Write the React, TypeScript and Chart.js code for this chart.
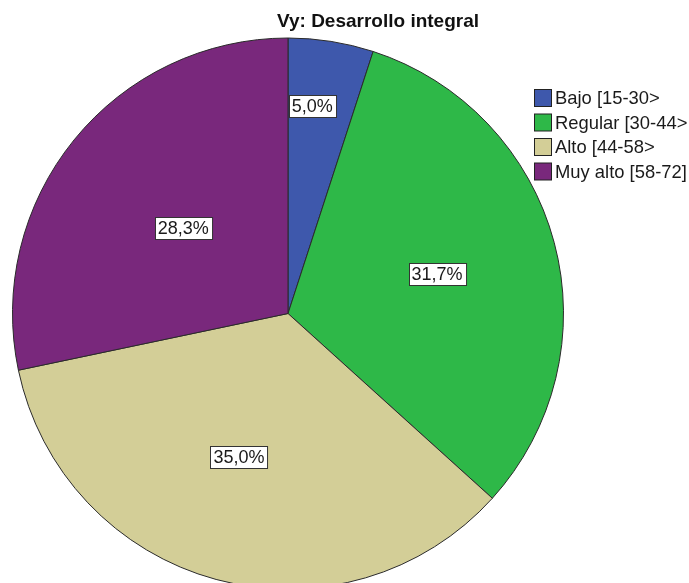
import React, { useEffect, useRef } from "react";
import { Chart, registerables } from "chart.js";

Chart.register(...registerables);

const TITLE = "Vy: Desarrollo integral";
const CATEGORIES = ["Bajo [15-30>", "Regular [30-44>", "Alto [44-58>", "Muy alto [58-72]"];
const PERCENTS = [5.0, 31.7, 35.0, 28.3];
const COLORS = ["#3E58AC", "#2EB848", "#D3CE97", "#79287C"];
// label placement within each slice: fraction of radius, fraction of the slice's angle
const LABEL_RADIUS = [0.76, 0.56, 0.55, 0.49];
const LABEL_ANGLE = [0.37, 0.5, 0.53, 0.5];

const FONT = "'Liberation Sans', Arial, sans-serif";

const overlayPlugin = {
  id: "spssOverlay",
  afterDatasetsDraw(chart: any) {
    const ctx = chart.ctx as CanvasRenderingContext2D;
    const meta = chart.getDatasetMeta(0);
    ctx.save();
    ctx.font = `18px ${FONT}`;
    ctx.textAlign = "center";
    ctx.textBaseline = "middle";
    meta.data.forEach((arc: any, i: number) => {
      const p = arc.getProps(["x", "y", "startAngle", "endAngle", "outerRadius"], true);
      const mid = p.startAngle + (p.endAngle - p.startAngle) * LABEL_ANGLE[i];
      const r = p.outerRadius * LABEL_RADIUS[i];
      const cx = p.x + Math.cos(mid) * r;
      const cy = p.y + Math.sin(mid) * r;
      const txt = PERCENTS[i].toFixed(1).replace(".", ",") + "%";
      const w = ctx.measureText(txt).width + 6;
      const h = 22;
      const bx = Math.round(cx - w / 2) + 0.5;
      const by = Math.round(cy - h / 2) + 0.5;
      ctx.fillStyle = "#ffffff";
      ctx.fillRect(bx, by, w, h);
      ctx.strokeStyle = "#333333";
      ctx.lineWidth = 1;
      ctx.strokeRect(bx, by, w, h);
      ctx.fillStyle = "#1a1a1a";
      ctx.fillText(txt, cx, cy + 1);
    });
    ctx.font = `bold 19px ${FONT}`;
    ctx.fillStyle = "#111111";
    ctx.textAlign = "center";
    ctx.fillText(TITLE, 378, 22);
    ctx.font = `18.4px ${FONT}`;
    ctx.textAlign = "left";
    CATEGORIES.forEach((label, i) => {
      const y = 89 + i * 24.5;
      ctx.fillStyle = COLORS[i];
      ctx.fillRect(534.5, y + 0.5, 17, 17);
      ctx.strokeStyle = "#222222";
      ctx.lineWidth = 1;
      ctx.strokeRect(534.5, y + 0.5, 17, 17);
      ctx.fillStyle = "#1a1a1a";
      ctx.fillText(label, 555, y + 10);
    });
    ctx.restore();
  },
};

export default function App() {
  const ref = useRef<HTMLCanvasElement | null>(null);
  useEffect(() => {
    if (!ref.current) return;
    const chart = new Chart(ref.current, {
      type: "pie",
      data: {
        labels: CATEGORIES,
        datasets: [
          {
            data: PERCENTS,
            backgroundColor: COLORS,
            borderColor: "#2a2a2a",
            borderWidth: 1,
            hoverOffset: 0,
            offset: 0,
          },
        ],
      },
      options: {
        animation: false,
        responsive: false,
        maintainAspectRatio: false,
        events: [],
        layout: { padding: { left: 12, right: 125, top: 37, bottom: 0 } },
        plugins: {
          legend: { display: false },
          title: { display: false },
          tooltip: { enabled: false },
        },
      },
      plugins: [overlayPlugin],
    });
    return () => chart.destroy();
  }, []);
  return (
    <div style={{ position: "fixed", left: 0, top: 0, width: 689, height: 583, overflow: "hidden", background: "#ffffff" }}>
      <canvas ref={ref} width={689} height={590} style={{ display: "block" }} />
    </div>
  );
}
